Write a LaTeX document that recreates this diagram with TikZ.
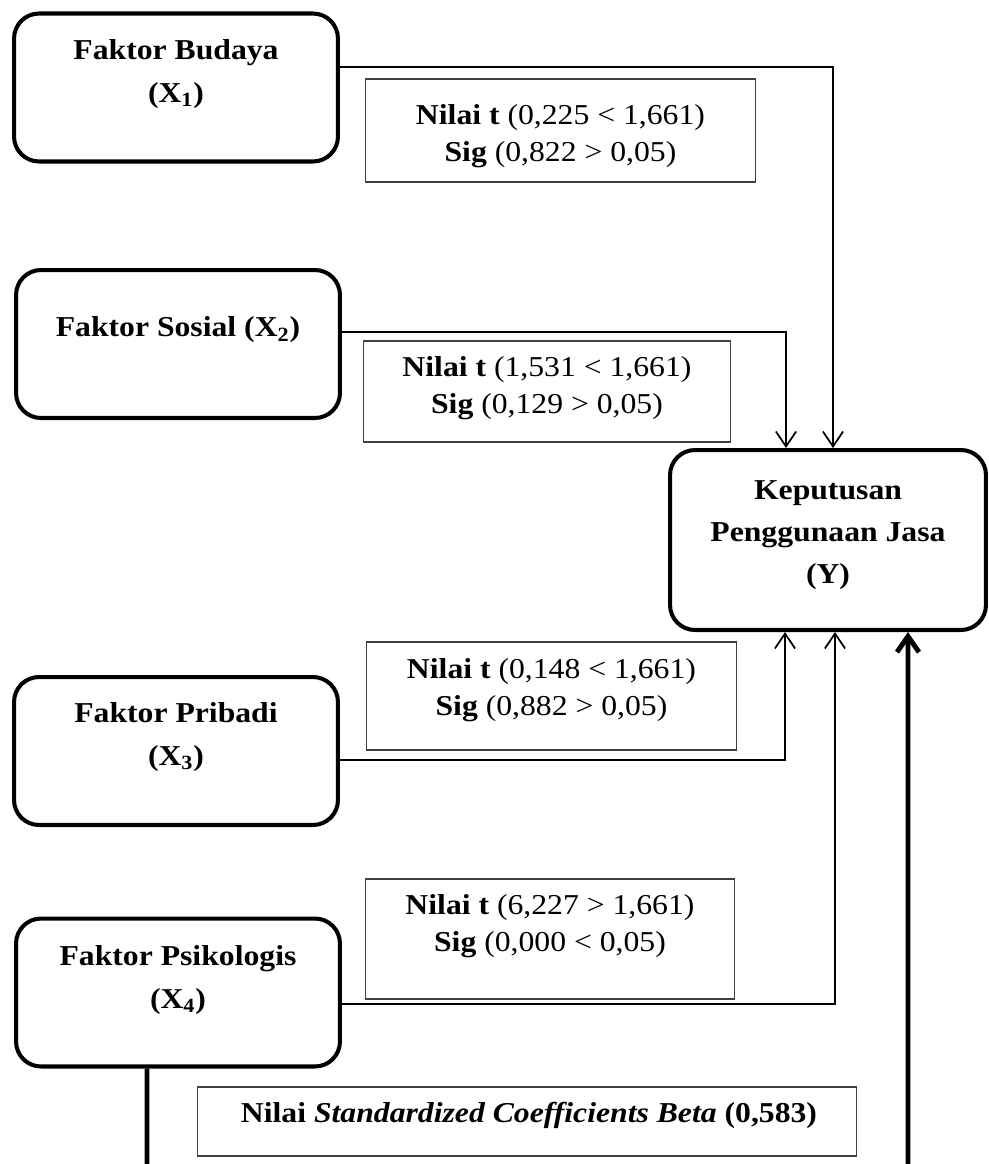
\documentclass[tikz,border=0pt]{standalone}
\usepackage{fontspec}
\setmainfont{Liberation Serif}[FakeStretch=1.1]
\usetikzlibrary{positioning, arrows.meta}

\begin{document}
\begin{tikzpicture}[x=0.02cm, y=-0.02cm,
          factor/.style={rectangle, rounded corners=0.5cm, draw,
                         line width=2.3pt, minimum width=6.48cm,
                         minimum height=2.96cm},
          lbl/.style={align=center,
                      font=\fontsize{16.4}{24}\selectfont\bfseries},
          stat/.style={rectangle, draw=black!75, line width=0.6pt},
          stattext/.style={align=center,
                           font=\fontsize{16.4}{21}\selectfont},
          link/.style={line width=1pt,
                       -{Straight Barb[length=8.5pt, width=11.5pt]}},
          biglink/.style={line width=2.8pt,
                          -{Straight Barb[length=9pt, width=12.5pt]}}
        ]
        \useasboundingbox (0, 0) rectangle (989, 1164);
        \clip (0, 0) rectangle (989, 1164);

        % Independent factors
        \node[factor] (x1) at (176, 87.5) {};
        \node[lbl] (x1t) at (176, 74) {Faktor Budaya\\(X\textsubscript{1})};
        \node[factor] (x2) at (178, 344) {};
        \node[lbl] (x2t) at (178, 330) {Faktor Sosial (X\textsubscript{2})};
        \node[factor] (x3) at (176, 751) {};
        \node[lbl] (x3t) at (176, 737) {Faktor Pribadi\\(X\textsubscript{3})};
        \node[factor] (x4) at (178, 992.5) {};
        \node[lbl] (x4t) at (178, 980) {Faktor Psikologis\\(X\textsubscript{4})};

        % Dependent variable
        \node[factor, minimum width=6.32cm, minimum height=3.6cm]
              (ky) at (828, 540) {};
        \node[lbl] (kyt) at (828, 535)
              {Keputusan\\Penggunaan Jasa\\(Y)};

        % t-test boxes
        \node[stat, minimum width=7.82cm, minimum height=2.06cm]
              (t1) at (560.5, 130.5) {};
        \node[stattext] (t1t) at (560.5, 136)
              {\textbf{Nilai t} (0,225 < 1,661)\\\textbf{Sig} (0,822 > 0,05)};
        \node[stat, minimum width=7.36cm, minimum height=2.02cm]
              (t2) at (547, 391.5) {};
        \node[stattext] (t2t) at (547, 388.5)
              {\textbf{Nilai t} (1,531 < 1,661)\\\textbf{Sig} (0,129 > 0,05)};
        \node[stat, minimum width=7.42cm, minimum height=2.16cm]
              (t3) at (551.5, 696) {};
        \node[stattext] (t3t) at (551.5, 690)
              {\textbf{Nilai t} (0,148 < 1,661)\\\textbf{Sig} (0,882 > 0,05)};
        \node[stat, minimum width=7.4cm, minimum height=2.4cm]
              (t4) at (550, 939) {};
        \node[stattext] (t4t) at (550, 926.5)
              {\textbf{Nilai t} (6,227 > 1,661)\\\textbf{Sig} (0,000 < 0,05)};

        % Beta box
        \node[stat, minimum width=13.2cm, minimum height=1.38cm]
              (beta) at (527, 1121.5) {};
        \node[stattext] (betat) at (529, 1115)
              {\textbf{Nilai \textit{Standardized Coefficients Beta} (0,583)}};

        % Partial effects
        \draw[link] ([yshift=0.41cm]x1.east) -| ([xshift=0.1cm]ky.north);
        \draw[link] ([yshift=0.24cm]x2.east) -| ([xshift=-0.84cm]ky.north);
        \draw[link] ([yshift=-0.18cm]x3.east) -| ([xshift=-0.86cm]ky.south);
        \draw[link] ([yshift=-0.23cm]x4.east) -| ([xshift=0.14cm]ky.south);

        % Simultaneous effect
        \coordinate (bl) at (147, 1185);
        \coordinate (br) at (908, 1185);
        \draw[biglink] ([xshift=-0.62cm]x4.south) -- (bl) -- (br)
              -- ([xshift=1.6cm]ky.south);
      \end{tikzpicture}
\end{document}
